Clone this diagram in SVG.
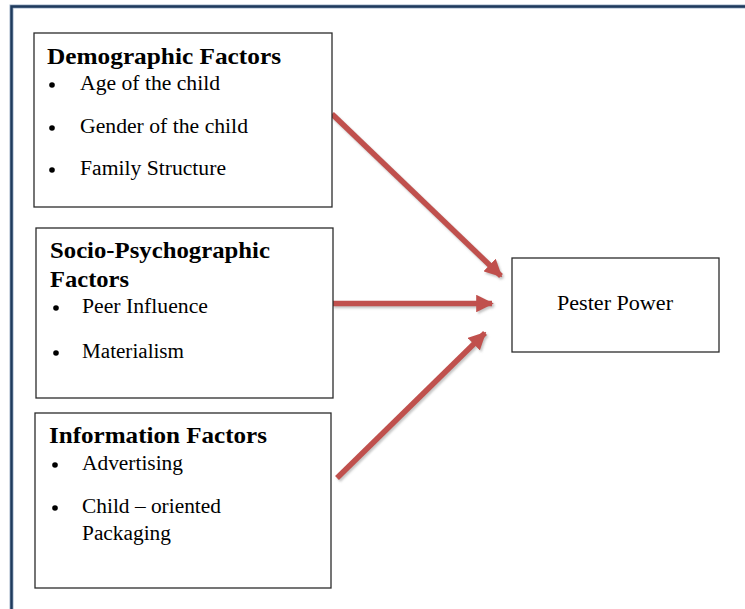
<svg xmlns="http://www.w3.org/2000/svg" width="745" height="609" viewBox="0 0 745 609">
  <defs>
    <style>
      .box { fill: #ffffff; stroke: #2b2b2b; stroke-width: 1.3; }
      .title { font-family: "Liberation Serif", "Times New Roman", serif; font-weight: bold; font-size: 23px; fill: #000; }
      .item { font-family: "Liberation Serif", "Times New Roman", serif; font-size: 20.5px; fill: #000; }
      .arrow { stroke: #C0504D; stroke-width: 5.5; fill: none; }
      .shadow { stroke: #7f7f7f; stroke-width: 5.5; fill: none; opacity: 0.45; }
    </style>
    <marker id="head" viewBox="0 0 10 10" refX="9" refY="5" markerWidth="3.2" markerHeight="3.2" markerUnits="strokeWidth" orient="auto">
      <path d="M0,0 L10,5 L0,10 Z" fill="#C0504D"/>
    </marker>
    <marker id="headShadow" viewBox="0 0 10 10" refX="9" refY="5" markerWidth="3.2" markerHeight="3.2" markerUnits="strokeWidth" orient="auto">
      <path d="M0,0 L10,5 L0,10 Z" fill="#7f7f7f"/>
    </marker>
    <filter id="soft" x="-10%" y="-10%" width="120%" height="120%">
      <feGaussianBlur stdDeviation="1.2"/>
    </filter>
  </defs>

  <rect width="745" height="609" fill="#ffffff"/>

  <!-- page frame -->
  <g id="frame">
    <path d="M11.5,609 L11.5,6.5 L745,6.5" fill="none" stroke="#9fb2c8" stroke-width="4"/>
    <path d="M11.5,609 L11.5,6.5 L745,6.5" fill="none" stroke="#1f3a5c" stroke-width="2.4"/>
  </g>

  <!-- connectors -->
  <g id="connectors">
    <g filter="url(#soft)" transform="translate(1.5,2)">
      <line class="shadow" x1="332" y1="114" x2="501" y2="276" marker-end="url(#headShadow)"/>
      <line class="shadow" x1="332" y1="303.5" x2="492" y2="303.5" marker-end="url(#headShadow)"/>
      <line class="shadow" x1="337" y1="478" x2="485" y2="333" marker-end="url(#headShadow)"/>
    </g>
    <line class="arrow" x1="332" y1="114" x2="501" y2="276" marker-end="url(#head)"/>
    <line class="arrow" x1="332" y1="303.5" x2="492" y2="303.5" marker-end="url(#head)"/>
    <line class="arrow" x1="337" y1="478" x2="485" y2="333" marker-end="url(#head)"/>
  </g>

  <g id="demographic">
    <rect class="box" x="34" y="33" width="298" height="174"/>
    <text class="title" x="47" y="64" textLength="234" lengthAdjust="spacingAndGlyphs">Demographic  Factors</text>
    <circle cx="52" cy="85" r="2.8"/>
    <text class="item" x="80" y="90" textLength="140" lengthAdjust="spacingAndGlyphs">Age of the child</text>
    <circle cx="52" cy="128" r="2.8"/>
    <text class="item" x="80" y="133" textLength="168" lengthAdjust="spacingAndGlyphs">Gender of the child</text>
    <circle cx="52" cy="170" r="2.8"/>
    <text class="item" x="80" y="175" textLength="146" lengthAdjust="spacingAndGlyphs">Family Structure</text>
  </g>

  <g id="socio">
    <rect class="box" x="36" y="228" width="297" height="170"/>
    <text class="title" x="50" y="258" textLength="220" lengthAdjust="spacingAndGlyphs">Socio-Psychographic</text>
    <text class="title" x="50" y="287" textLength="79" lengthAdjust="spacingAndGlyphs">Factors</text>
    <circle cx="56" cy="308" r="2.8"/>
    <text class="item" x="82" y="313" textLength="126" lengthAdjust="spacingAndGlyphs">Peer Influence</text>
    <circle cx="56" cy="353" r="2.8"/>
    <text class="item" x="82" y="358" textLength="102" lengthAdjust="spacingAndGlyphs">Materialism</text>
  </g>

  <g id="information">
    <rect class="box" x="35" y="413" width="296" height="175"/>
    <text class="title" x="49" y="443" textLength="218" lengthAdjust="spacingAndGlyphs">Information  Factors</text>
    <circle cx="55" cy="465" r="2.8"/>
    <text class="item" x="82" y="470" textLength="101" lengthAdjust="spacingAndGlyphs">Advertising</text>
    <circle cx="55" cy="508" r="2.8"/>
    <text class="item" x="82" y="513" textLength="139" lengthAdjust="spacingAndGlyphs">Child – oriented</text>
    <text class="item" x="82" y="540" textLength="89" lengthAdjust="spacingAndGlyphs">Packaging</text>
  </g>

  <g id="pester">
    <rect class="box" x="512" y="258" width="207" height="94"/>
    <text class="item" x="557" y="310" textLength="116" lengthAdjust="spacingAndGlyphs">Pester Power</text>
  </g>
</svg>
